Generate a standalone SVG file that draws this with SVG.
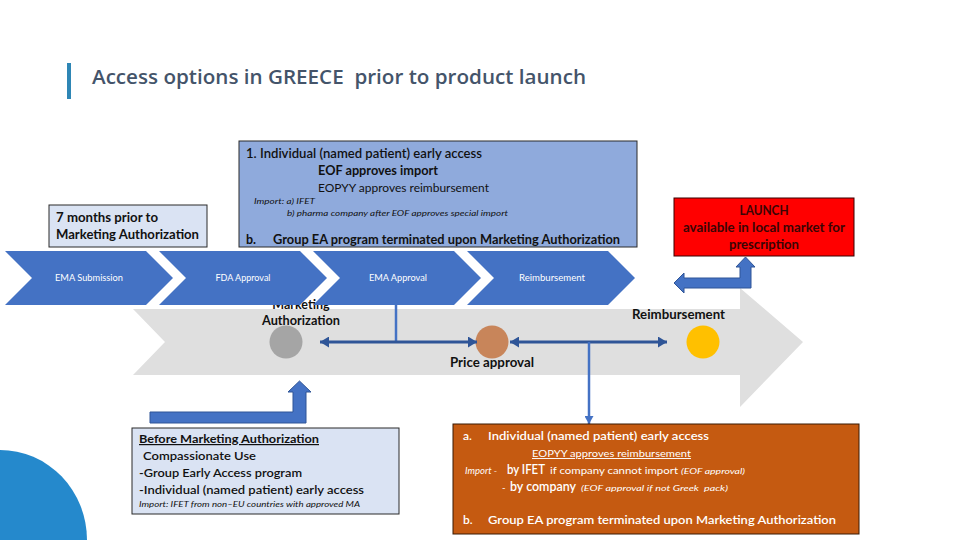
<svg xmlns="http://www.w3.org/2000/svg" width="960" height="540" viewBox="0 0 960 540">
<style>
  text { font-family: Lato, "Liberation Sans", sans-serif; }
  .b { font-weight: 700; }
  .sb { font-weight: 600; }
  .it { font-style: italic; }
  .chev { fill: #4472c4; }
  .chevt { fill: #ffffff; font-size: 9.5px; text-anchor: middle; }
  .box { stroke: #2a2a2a; stroke-width: 1; }
  .dk { fill: #111111; }
  .wh { fill: #ffffff; }
  .lt { fill: #3a0505; font-weight: 700; text-anchor: middle; font-size: 12.5px; }
  .conn { fill: none; stroke: #2f5597; stroke-width: 3; }
  .conn2 { fill: none; stroke: #4472c4; stroke-width: 2.5; }
  .block { fill: #4472c4; stroke: #2f5597; stroke-width: 1; }
</style>
<defs>
  <marker id="ah" markerUnits="userSpaceOnUse" markerWidth="9" markerHeight="11" refX="9" refY="5.5" orient="auto-start-reverse">
    <path d="M0,0 L9,5.5 L0,11 z" fill="#2f5597"/>
  </marker>
  <marker id="ah2" markerUnits="userSpaceOnUse" markerWidth="8" markerHeight="9" refX="8" refY="4.5" orient="auto">
    <path d="M0,0 L8,4.5 L0,9 z" fill="#4472c4"/>
  </marker>
</defs>
<rect width="960" height="540" fill="#ffffff"/>

<g id="title">
  <rect x="67" y="63" width="4" height="36" fill="#2e86b5"/>
  <text x="92" y="84" xml:space="preserve" font-size="20" class="sb" fill="#44546a" textLength="494" lengthAdjust="spacingAndGlyphs" style="font-family: 'Open Sans', Lato, sans-serif;">Access options in GREECE  prior to product launch</text>
</g>

<g id="corner-shape">
  <path d="M0,450 A87,90 0 0 1 87,540 L0,540 z" fill="#2589cc"/>
</g>

<g id="timeline-arrow">
  <polygon points="133,309 740,309 740,288 803,342 740,407 740,375 133,375 165,342" fill="#dfdfdf"/>
  <text x="301" y="309" font-size="12.5" class="b dk" text-anchor="middle">Marketing</text>
  <text x="262" y="325" font-size="12.5" class="b dk" textLength="78" lengthAdjust="spacingAndGlyphs">Authorization</text>
  <text x="632" y="319" font-size="12.5" class="b dk" textLength="93" lengthAdjust="spacingAndGlyphs">Reimbursement</text>
  <text x="450" y="367" font-size="12.5" class="b dk" textLength="84" lengthAdjust="spacingAndGlyphs">Price approval</text>
</g>

<g id="chevrons">
  <g id="chev-ema-submission">
    <polygon class="chev" points="5,251 146,251 173,278 146,305 5,305 32,278"/>
    <text class="chevt" x="89" y="281" textLength="68" lengthAdjust="spacingAndGlyphs">EMA Submission</text>
  </g>
  <g id="chev-fda-approval">
    <polygon class="chev" points="159,251 300,251 327,278 300,305 159,305 186,278"/>
    <text class="chevt" x="243" y="281" textLength="55" lengthAdjust="spacingAndGlyphs">FDA Approval</text>
  </g>
  <g id="chev-ema-approval">
    <polygon class="chev" points="313,251 454,251 481,278 454,305 313,305 340,278"/>
    <text class="chevt" x="398" y="281" textLength="58" lengthAdjust="spacingAndGlyphs">EMA Approval</text>
  </g>
  <g id="chev-reimbursement">
    <polygon class="chev" points="467,251 608,251 635,278 608,305 467,305 494,278"/>
    <text class="chevt" x="552" y="281" textLength="66" lengthAdjust="spacingAndGlyphs">Reimbursement</text>
  </g>
</g>

<g id="milestones">
  <circle id="ma-dot" cx="286" cy="342" r="16.5" fill="#a5a5a5"/>
  <circle id="price-dot" cx="492" cy="342" r="16.5" fill="#c8855a"/>
  <circle id="reimb-dot" cx="703" cy="342" r="16.5" fill="#ffc000"/>
</g>

<g id="connectors">
  <line class="conn2" x1="396" y1="305" x2="396" y2="342"/>
  <line class="conn" x1="320" y1="342" x2="477" y2="342" marker-start="url(#ah)" marker-end="url(#ah)"/>
  <line class="conn" x1="510" y1="342" x2="667" y2="342" marker-start="url(#ah)" marker-end="url(#ah)"/>
  <line class="conn2" x1="589" y1="342" x2="589" y2="424" marker-end="url(#ah2)"/>
  <polygon class="block" points="674,283 684,273 684,278 740,278 740,267 736,267 745.5,257 755,267 751,267 751,288 684,288 684,293"/>
  <polygon class="block" points="150,412 293,412 293,392 288,392 299.5,381 311,392 306,392 306,423 150,423"/>
</g>

<g id="individual-box">
  <rect class="box" x="239" y="141" width="398" height="106" fill="#8faadc"/>
  <text x="246" y="158" font-size="12.5" class="sb dk" textLength="236" lengthAdjust="spacingAndGlyphs">1. Individual (named patient) early access</text>
  <text x="318" y="175" font-size="12.5" class="b dk" textLength="120" lengthAdjust="spacingAndGlyphs">EOF approves import</text>
  <text x="318" y="192" font-size="11.5" class="dk" textLength="171" lengthAdjust="spacingAndGlyphs">EOPYY approves reimbursement</text>
  <text x="254" y="204" font-size="8" class="it dk" textLength="61" lengthAdjust="spacingAndGlyphs">Import: a) IFET</text>
  <text x="287" y="216" font-size="8" class="it dk" textLength="221" lengthAdjust="spacingAndGlyphs">b) pharma company after EOF approves special import</text>
  <text x="246" y="244" font-size="12.5" class="b dk">b.</text>
  <text x="273" y="244" font-size="12.5" class="b dk" textLength="347" lengthAdjust="spacingAndGlyphs">Group EA program terminated upon Marketing Authorization</text>
</g>

<g id="seven-months-box">
  <rect class="box" x="49" y="205" width="158" height="42" fill="#dae3f3"/>
  <text x="56" y="222" font-size="12.5" class="b dk" textLength="102" lengthAdjust="spacingAndGlyphs">7 months prior to</text>
  <text x="56" y="239" font-size="12.5" class="b dk" textLength="143" lengthAdjust="spacingAndGlyphs">Marketing Authorization</text>
</g>

<g id="launch-box">
  <rect x="674" y="198" width="180" height="58" fill="#ff0000" stroke="#3a0000" stroke-width="1"/>
  <text x="764" y="215" class="lt" textLength="49" lengthAdjust="spacingAndGlyphs">LAUNCH</text>
  <text x="764" y="232" class="lt" textLength="162" lengthAdjust="spacingAndGlyphs">available in local market for</text>
  <text x="764" y="249" class="lt" textLength="70" lengthAdjust="spacingAndGlyphs">prescription</text>
</g>

<g id="before-box">
  <rect class="box" x="132" y="428" width="267" height="86" fill="#dae3f3"/>
  <text x="139" y="443" font-size="12" class="b dk" text-decoration="underline" textLength="180" lengthAdjust="spacingAndGlyphs">Before Marketing Authorization</text>
  <text x="143" y="460" font-size="12" class="sb dk" textLength="113" lengthAdjust="spacingAndGlyphs">Compassionate Use</text>
  <text x="139" y="477" font-size="12" class="sb dk" textLength="163" lengthAdjust="spacingAndGlyphs">-Group Early Access program</text>
  <text x="139" y="494" font-size="12" class="sb dk" textLength="225" lengthAdjust="spacingAndGlyphs">-Individual (named patient) early access</text>
  <text x="139" y="507" font-size="8" class="it dk" textLength="221" lengthAdjust="spacingAndGlyphs">Import: IFET from non–EU countries with approved MA</text>
</g>

<g id="after-box">
  <rect x="453" y="424" width="406" height="110" fill="#c55a11" stroke="#3a1a05" stroke-width="1"/>
  <text x="463" y="440" font-size="12" class="sb wh">a.</text>
  <text x="488" y="440" font-size="12" class="sb wh" textLength="221" lengthAdjust="spacingAndGlyphs">Individual (named patient) early access</text>
  <text x="532" y="457" font-size="9.5" class="wh" text-decoration="underline" textLength="159" lengthAdjust="spacingAndGlyphs">EOPYY approves reimbursement</text>
  <text x="465" y="474" font-size="9.5" class="it wh">Import -</text>
  <text x="507" y="474" font-size="12.5" class="sb wh" textLength="38" lengthAdjust="spacingAndGlyphs">by IFET</text>
  <text x="550" y="474" font-size="9.5" class="wh" textLength="128" lengthAdjust="spacingAndGlyphs">if company cannot import</text>
  <text x="681" y="474" font-size="8" class="it wh" textLength="64" lengthAdjust="spacingAndGlyphs">(EOF approval)</text>
  <text x="502" y="491" font-size="9.5" class="wh">-</text>
  <text x="510" y="491" font-size="12.5" class="sb wh" textLength="66" lengthAdjust="spacingAndGlyphs">by company</text>
  <text x="581" y="491" xml:space="preserve" font-size="8" class="it wh" textLength="147" lengthAdjust="spacingAndGlyphs">(EOF approval if not Greek  pack)</text>
  <text x="463" y="524" font-size="12" class="sb wh">b.</text>
  <text x="488" y="524" font-size="12" class="sb wh" textLength="348" lengthAdjust="spacingAndGlyphs">Group EA program terminated upon Marketing Authorization</text>
</g>
</svg>
